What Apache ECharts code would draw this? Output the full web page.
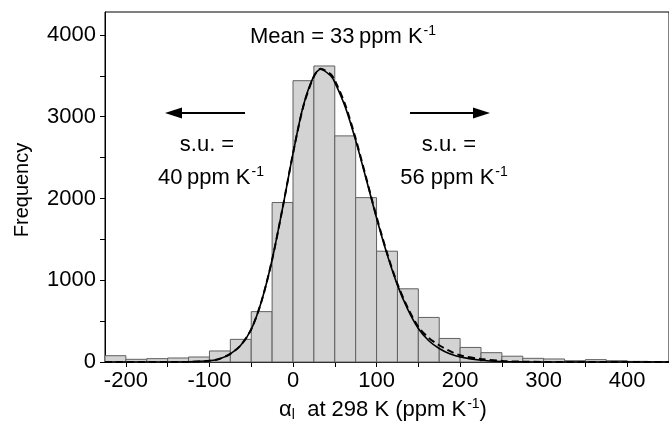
<!DOCTYPE html>
<html><head><meta charset="utf-8">
<script src="https://cdn.jsdelivr.net/npm/echarts@6/dist/echarts.min.js"></script>
<style>html,body{margin:0;padding:0;background:#fff}#c{width:669px;height:426px}</style>
</head><body><div id="c"></div>
<script>
// Histogram bins (lower edges) and counts
const binStarts = [-225,-200,-175,-150,-125,-100,-75,-50,-25,0,25,50,75,100,125,150,175,200,225,250,275,300,325,350,375,400,425];
const binWidth = 25;
const counts = [77,33,41,49,61,135,277,616,1950,3440,3620,2765,2010,1355,895,545,288,178,114,71,45,37,16,29,16,8,6];

// Fitted curves
const fitX = [-225,-150,-125,-100,-87.5,-75,-62.5,-50,-37.5,-25,-12.5,0,12.5,25,33,45,50,62.5,75,87.5,100,112.5,125,137.5,150,162.5,175,187.5,200,225,250,275,300,325,450];
const fitSolid = [0,0,2,15,40,100,205,400,750,1250,1880,2550,3140,3500,3580,3500,3420,3120,2710,2240,1760,1320,940,640,410,260,165,100,62,22,6,1,0,0,0];
const fitDashed = [0,0,2,15,40,100,205,400,750,1250,1880,2550,3130,3490,3585,3520,3445,3145,2730,2255,1775,1335,955,660,430,295,205,135,82,36,13,4,1,0,0];

// Axis ticks and labels
const xTickValues = [-200,-150,-100,-50,0,50,100,150,200,250,300,350,400,450];
const xLabelValues = [-200,-100,0,100,200,300,400];
const yTickValues = [0,500,1000,1500,2000,2500,3000,3500,4000];
const yLabelValues = [0,1000,2000,3000,4000];

const FONT = '"Liberation Sans", Arial, sans-serif';
const chart = echarts.init(document.getElementById('c'), null, {renderer: 'canvas'});

const histData = counts.map((c, i) => [binStarts[i], binStarts[i] + binWidth, c]);
const solidData = fitX.map((x, i) => [x, fitSolid[i]]);
const dashedData = fitX.map((x, i) => [x, fitDashed[i]]);

const rich = {
  sup: {fontSize: 14, fontFamily: FONT, verticalAlign: 'top', fill: '#000', padding: [0,0,0,1]},
  sub: {fontSize: 14, fontFamily: FONT, verticalAlign: 'bottom', fill: '#000'}
};
function txt(x, y, text) {
  return {
    type: 'text', x: x, y: y, silent: true,
    style: {text: text, fontSize: 22, fontFamily: FONT, fill: '#000', align: 'center', verticalAlign: 'middle', rich: rich, lineHeight: 25}
  };
}

chart.setOption({
  animation: false,
  backgroundColor: '#fff',
  grid: {left: 105, top: 12, right: -9, bottom: 64, show: true, borderColor: '#000', borderWidth: 1},
  xAxis: {
    type: 'value', min: -225, max: 450,
    axisLine: {show: true, onZero: false, lineStyle: {color: '#000', width: 1}},
    axisTick: {show: true, customValues: xTickValues, length: 5, lineStyle: {color: '#000'}},
    axisLabel: {customValues: xLabelValues, color: '#000', fontSize: 22, fontFamily: FONT, margin: 8, formatter: v => String(v)},
    splitLine: {show: false}
  },
  yAxis: {
    type: 'value', min: 0, max: 4280,
    axisLine: {show: true, onZero: false, lineStyle: {color: '#000', width: 1}},
    axisTick: {show: true, customValues: yTickValues, length: 5, lineStyle: {color: '#000'}},
    axisLabel: {customValues: yLabelValues, color: '#000', fontSize: 22, fontFamily: FONT, margin: 9, formatter: v => String(v)},
    splitLine: {show: false}
  },
  series: [
    {
      type: 'custom', data: histData, encode: {x: [0, 1], y: 2}, z: 1,
      renderItem: function (params, api) {
        const p0 = api.coord([api.value(0), 0]);
        const p1 = api.coord([api.value(1), api.value(2)]);
        return {type: 'rect', shape: {x: p0[0], y: p1[1], width: p1[0] - p0[0], height: p0[1] - p1[1]},
          style: {fill: '#d3d3d3', stroke: '#606060', lineWidth: 1}};
      }
    },
    {type: 'line', data: solidData, smooth: 0.3, showSymbol: false, z: 3,
      lineStyle: {color: '#000', width: 1.6}},
    {type: 'line', data: dashedData, smooth: 0.3, showSymbol: false, z: 4,
      lineStyle: {color: '#000', width: 2, type: [7, 4]}}
  ],
  graphic: [
    txt(343, 37, 'Mean = 33\u2009ppm K{sup|-1}'),
    txt(207, 145, 's.u. ='),
    txt(211, 178, '40\u2009ppm K{sup|-1}'),
    txt(449, 145, 's.u. ='),
    txt(454, 178, '56 ppm K{sup|-1}'),
    txt(383, 410, 'α{sub|l}  at 298 K (ppm K{sup|-1})'),
    {type: 'text', x: 22, y: 190, rotation: Math.PI / 2, silent: true,
      style: {text: 'Frequency', fontSize: 20, fontFamily: FONT, fill: '#000', align: 'center', verticalAlign: 'middle'}},
    {type: 'line', silent: true, shape: {x1: 178, y1: 113, x2: 245, y2: 113}, style: {stroke: '#000', lineWidth: 2}},
    {type: 'polygon', silent: true, shape: {points: [[165, 113], [182, 107.5], [182, 118.5]]}, style: {fill: '#000'}},
    {type: 'line', silent: true, shape: {x1: 410, y1: 113, x2: 477, y2: 113}, style: {stroke: '#000', lineWidth: 2}},
    {type: 'polygon', silent: true, shape: {points: [[490, 113], [473, 107.5], [473, 118.5]]}, style: {fill: '#000'}}
  ]
});
</script>
</body></html>
